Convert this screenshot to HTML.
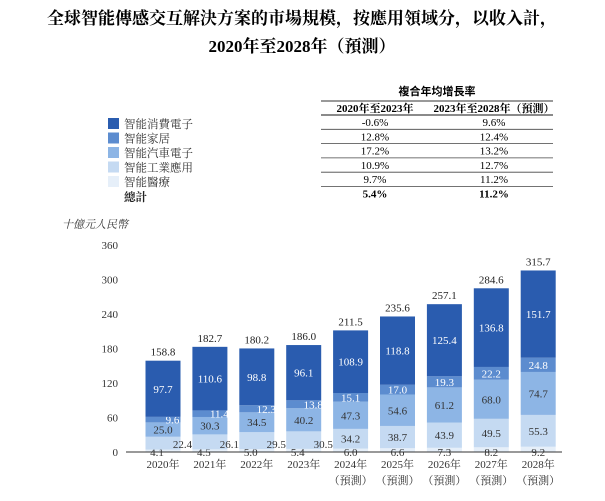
<!DOCTYPE html>
<html><head><meta charset="utf-8"><style>
body{margin:0;background:#fff;width:605px;height:496px;overflow:hidden;font-family:"Liberation Serif","Noto Serif CJK SC",serif;}
</style></head><body>
<svg width="605" height="496" xmlns="http://www.w3.org/2000/svg" font-family="Liberation Serif, Noto Serif CJK SC, serif">
<text x="302" y="24" text-anchor="middle" font-size="17" font-weight="bold">全球智能傳感交互解決方案的市場規模，按應用領域分，以收入計，</text>
<text x="302" y="52" text-anchor="middle" font-size="17" font-weight="bold">2020年至2028年（預測）</text>
<g id="table" font-size="11"></g>
<g id="legend" font-size="11.5"></g>
<text x="62" y="228" font-size="11" font-style="italic" fill="#333">十億元人民幣</text>
<g id="plot"></g>
</svg>
<script>
const years=["2020年","2021年","2022年","2023年","2024年","2025年","2026年","2027年","2028年"];
const medical=[4.1,4.5,5.0,5.4,6.0,6.6,7.3,8.2,9.2];
const industrial=[22.4,26.1,29.5,30.5,34.2,38.7,43.9,49.5,55.3];
const auto=[25.0,30.3,34.5,40.2,47.3,54.6,61.2,68.0,74.7];
const home=[9.6,11.4,12.3,13.8,15.1,17.0,19.3,22.2,24.8];
const consumer=[97.7,110.6,98.8,96.1,108.9,118.8,125.4,136.8,151.7];
const totals=[158.8,182.7,180.2,186.0,211.5,235.6,257.1,284.6,315.7];
const yTicks=[0,60,120,180,240,300,360];
const segNames=["智能消費電子","智能家居","智能汽車電子","智能工業應用","智能醫療"];
const cagr1=["-0.6%","12.8%","17.2%","10.9%","9.7%","5.4%"];
const cagr2=["9.6%","12.4%","13.2%","12.7%","11.2%","11.2%"];
const colors=["#2a5caf","#5c8ccf","#8db5e5","#c5daf2","#e6eff9"];
const NS="http://www.w3.org/2000/svg";
function mk(tag,attrs,parent,txt){const e=document.createElementNS(NS,tag);for(const k in attrs)e.setAttribute(k,attrs[k]);if(txt!==undefined)e.textContent=txt;parent.appendChild(e);return e;}
const y=v=>452-v*207/360;
const x=i=>163+i*46.9;
const bw=35;
const plot=document.getElementById('plot');
yTicks.forEach(t=>{const e=mk('text',{x:118,y:y(t)+4,'text-anchor':'end','font-size':11,fill:'#333'},plot,t);

});
const series=[medical,industrial,auto,home,consumer];
const sc=[colors[4],colors[3],colors[2],colors[1],colors[0]];
years.forEach((yr,i)=>{
 let base=0;
 series.forEach((s,k)=>{
  const r=mk('rect',{x:x(i)-bw/2,y:y(base+s[i]),width:bw,height:y(base)-y(base+s[i]),fill:sc[k]},plot);
  
  
  const mid=base+s[i]/2;base+=s[i];
  let lx=x(i),ly=y(mid)+4,fill=k>=3?'#fff':'#333';
  if(k===0)ly=y(0)+4;
  if(i<4&&k===1){lx=x(i)+bw/2+2;ly=y(0)-4;}
  if(i<4&&k===0){lx=x(i)-6;}
  if(i<4&&k===3){lx=x(i)+bw/2-8;}
  const t=mk('text',{x:lx,y:ly,'text-anchor':'middle','font-size':11,fill:fill},plot,s[i].toFixed(1));
  
  
 });
 const tt=mk('text',{x:x(i),y:y(totals[i])-5,'text-anchor':'middle','font-size':11,fill:'#222'},plot,totals[i].toFixed(1));
 
 
 const xl=mk('text',{x:x(i),y:468,'text-anchor':'middle','font-size':11,fill:'#333'},plot,yr);
 
 
 if(i>=4){const p=mk('text',{x:x(i),y:484,'text-anchor':'middle','font-size':11,fill:'#333'},plot,'（預測）');
 
 }
});
const ax=mk('line',{x1:126,x2:562,y1:452,y2:452,stroke:'#333','stroke-width':1},plot);


// legend
const lg=document.getElementById('legend');
segNames.forEach((n,k)=>{const yy=118+k*14.5;
 const r=mk('rect',{x:108,y:yy,width:11,height:11,fill:colors[k]},lg);
 
 
 const t=mk('text',{x:124,y:yy+10,fill:'#333'},lg,n);
 
 });
const tot=mk('text',{x:124,y:201,'font-weight':'bold',fill:'#222'},lg,'總計');


// table
const tb=document.getElementById('table');
mk('text',{x:437,y:95,'text-anchor':'middle','font-weight':'bold','font-family':'Noto Sans CJK SC, sans-serif'},tb,'複合年均增長率');
mk('line',{x1:321,x2:553,y1:101,y2:101,stroke:'#333'},tb);
mk('text',{x:375,y:112,'text-anchor':'middle','font-weight':'bold'},tb,'2020年至2023年');
mk('text',{x:494,y:112,'text-anchor':'middle','font-weight':'bold'},tb,'2023年至2028年（預測）');
cagr1.forEach((v,k)=>{const yy=115+k*14.3;
 mk('line',{x1:321,x2:553,y1:yy,y2:yy,stroke:'#444','stroke-width':k==0?1.2:0.8},tb);
 const b=k===5?{'font-weight':'bold'}:{};
 mk('text',Object.assign({x:375,y:yy+11,'text-anchor':'middle'},b),tb,v);
 mk('text',Object.assign({x:494,y:yy+11,'text-anchor':'middle'},b),tb,cagr2[k]);});
</script>
</body></html>
